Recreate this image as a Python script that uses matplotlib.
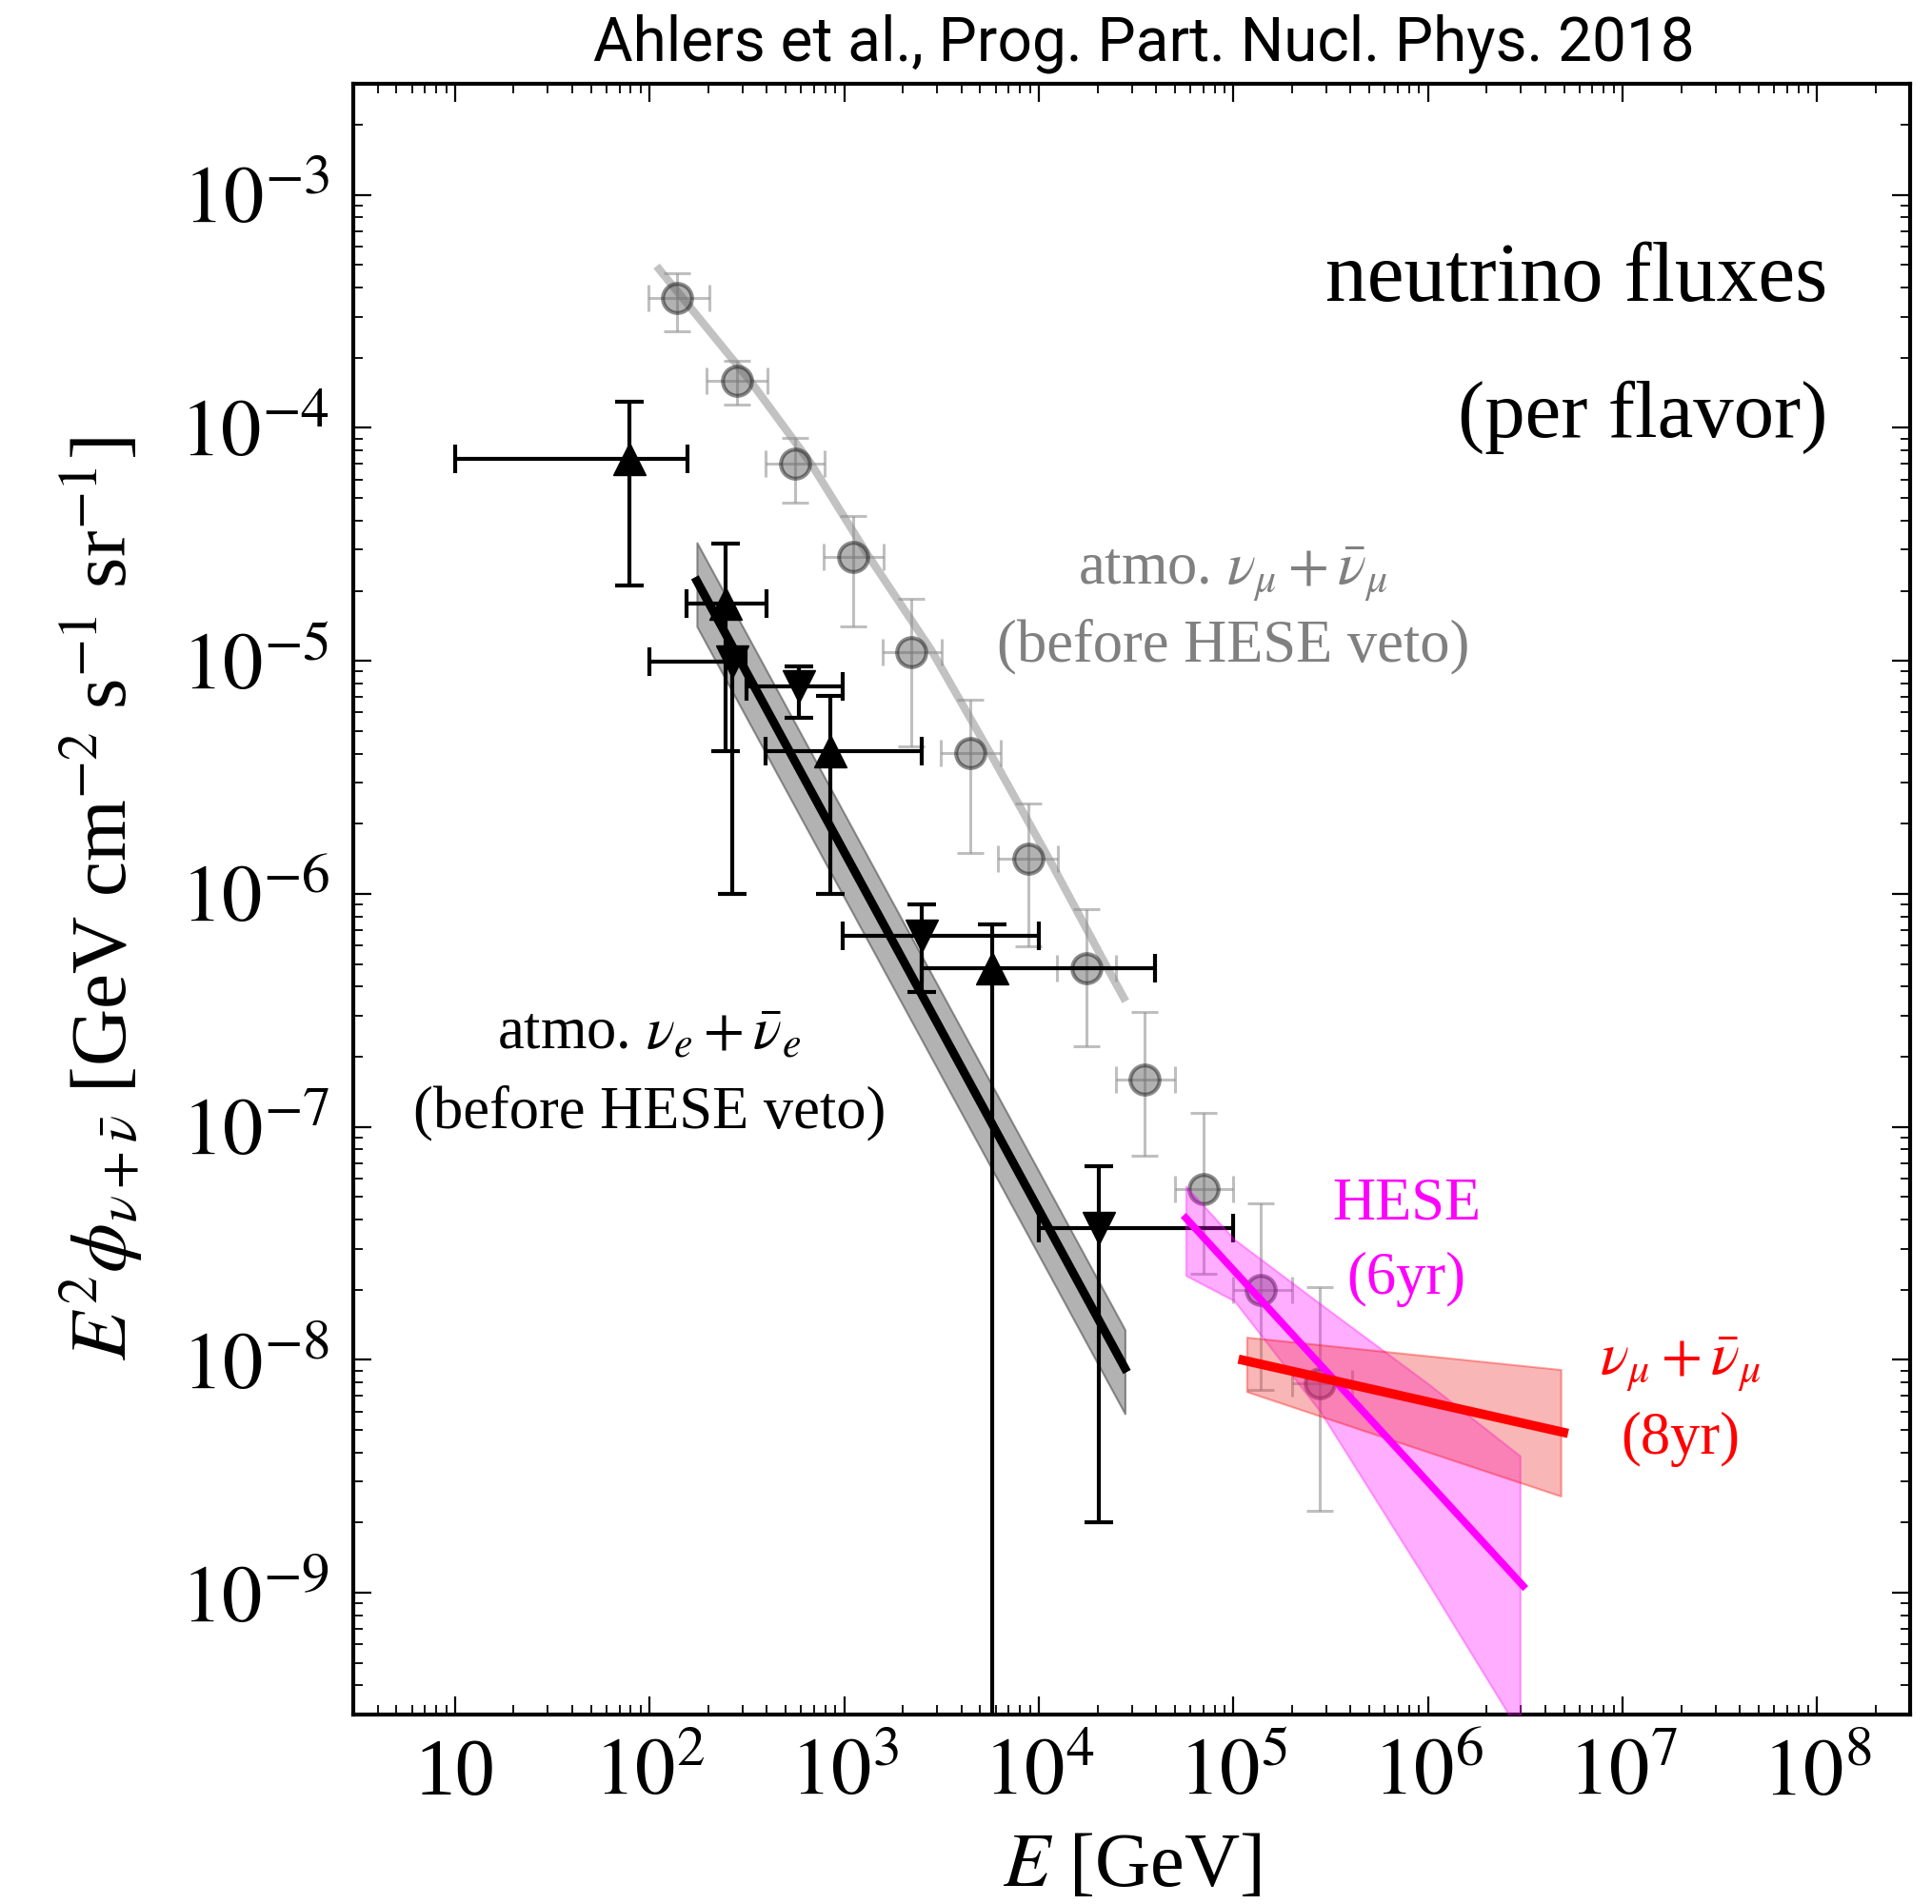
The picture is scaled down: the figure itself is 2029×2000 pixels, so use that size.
import numpy as np
import matplotlib
matplotlib.use("Agg")
import matplotlib.pyplot as plt
from matplotlib.ticker import FixedLocator, FixedFormatter, LogLocator, NullFormatter

plt.rcParams['font.family'] = 'serif'
plt.rcParams['font.serif'] = ['Liberation Serif', 'DejaVu Serif']
plt.rcParams['mathtext.fontset'] = 'stix'

# atmospheric numu + numubar (gray circles)
mu_E = np.array([138, 280, 557, 1117, 2213, 4436, 8830, 17540, 35100, 70600, 1.38e5, 2.79e5])
mu_F = np.array([3.6e-4, 1.60e-4, 7.03e-5, 2.80e-5, 1.09e-5, 4.02e-6, 1.41e-6, 4.78e-7, 1.60e-7, 5.42e-8, 2.0e-8, 7.9e-9])
mu_Fhi = np.array([4.6e-4, 1.94e-4, 9.06e-5, 4.17e-5, 1.84e-5, 6.84e-6, 2.45e-6, 8.57e-7, 3.1e-7, 1.15e-7, 4.7e-8, 2.05e-8])
mu_Flo = np.array([2.59e-4, 1.26e-4, 4.77e-5, 1.41e-5, 4.28e-6, 1.50e-6, 5.94e-7, 2.22e-7, 7.5e-8, 2.35e-8, 7.4e-9, 2.24e-9])
mu_Elo = np.array([99, 197, 393, 782, 1570, 3140, 6150, 12400, 24900, 50000, 1.0e5, 2.0e5])
mu_Ehi = np.array([202, 403, 796, 1600, 3185, 6350, 12500, 24900, 50000, 1.0e5, 2.0e5, 4.06e5])

# atmospheric numu model curve
mu_curve_E = np.array([108.6, 328.9, 673, 1324, 2805, 5623, 11300, 22590, 27930])
mu_curve_F = np.array([4.95e-4, 1.59e-4, 7.05e-5, 2.84e-5, 1.11e-5, 4.02e-6, 1.41e-6, 4.78e-7, 3.46e-7])

# atmospheric nue + nuebar, up triangles
e_up_E = np.array([78.9, 245, 848, 5730])
e_up_F = np.array([7.36e-5, 1.77e-5, 4.1e-6, 4.8e-7])
e_up_Flo = np.array([2.11e-5, 4.1e-6, 1.0e-6, 1e-12])
e_up_Fhi = np.array([1.30e-4, 3.2e-5, 7.1e-6, 7.4e-7])
e_up_Elo = np.array([10, 155, 395, 2500])
e_up_Ehi = np.array([157, 400, 2500, 39400])

# atmospheric nue + nuebar, down triangles
e_dn_E = np.array([266, 588, 2500, 20300])
e_dn_F = np.array([9.9e-6, 7.8e-6, 6.6e-7, 3.66e-8])
e_dn_Flo = np.array([1.0e-6, 5.7e-6, 3.8e-7, 2.0e-9])
e_dn_Fhi = np.array([9.9e-6, 9.5e-6, 9.0e-7, 6.8e-8])
e_dn_Elo = np.array([100, 313, 985, 1.0e4])
e_dn_Ehi = np.array([310, 986, 1.0e4, 1.0e5])

# nue fit line and its band
e_fit_E = np.array([175, 2.77e4])
e_fit_F = np.array([2.2e-5, 9.2e-9])
e_band_hi = 10**0.165
e_band_lo = 10**-0.195

# HESE 6yr
hese_E = np.array([5.69e4, 3.08e6])
hese_F = np.array([4.06e-8, 1.07e-9])
hese_band_E = np.array([5.69e4, 1.01e5, 2.79e5, 1.0e6, 2.97e6])
hese_band_hi = np.array([5.56e-8, 3.29e-8, 1.74e-8, 7.9e-9, 3.87e-9])
hese_band_lo = np.array([2.30e-8, 1.79e-8, 6.0e-9, 1.1e-9, 2.5e-10])

# numu 8yr
numu_E = np.array([1.12e5, 4.97e6])
numu_F = np.array([9.96e-9, 4.88e-9])
numu_band_E = np.array([1.17e5, 4.81e6])
numu_band_hi = np.array([1.25e-8, 9.08e-9])
numu_band_lo = np.array([7.3e-9, 2.6e-9])

fig = plt.figure(figsize=(20.29, 20.0), dpi=100)
ax = fig.add_axes([371/2029, 1 - 1801/2000, (2006 - 371)/2029, (1801 - 88)/2000])
ax.set_xscale('log')
ax.set_yscale('log')
ax.set_xlim(3, 3e8)
ax.set_ylim(3e-10, 3e-3)

# nue band + fit
ax.fill_between(e_fit_E, e_fit_F * e_band_lo, e_fit_F * e_band_hi,
                facecolor='0.5', alpha=0.6, edgecolor='0.3', lw=1.5, zorder=2)
ax.plot(e_fit_E, e_fit_F, color='k', lw=6.5, zorder=3)

# numu curve + data
ax.plot(mu_curve_E, mu_curve_F, color='0.76', lw=6, zorder=2, solid_capstyle='butt')
ax.errorbar(mu_E, mu_F, xerr=[mu_E - mu_Elo, mu_Ehi - mu_E], yerr=[mu_F - mu_Flo, mu_Fhi - mu_F],
            fmt='none', ecolor='0.55', alpha=0.55, elinewidth=2.2, capsize=10, capthick=2.2, zorder=4)
ax.plot(mu_E, mu_F, 'o', ms=22, mfc='0.4', mec='0.1', mew=3, alpha=0.5, zorder=5)

# nue data
ax.errorbar(e_up_E, e_up_F, xerr=[e_up_E - e_up_Elo, e_up_Ehi - e_up_E],
            yerr=[e_up_F - e_up_Flo, e_up_Fhi - e_up_F],
            fmt='^', color='k', ms=25, elinewidth=3, capsize=11, capthick=3, zorder=6)
ax.errorbar(e_dn_E, e_dn_F, xerr=[e_dn_E - e_dn_Elo, e_dn_Ehi - e_dn_E],
            yerr=[e_dn_F - e_dn_Flo, e_dn_Fhi - e_dn_F],
            fmt='v', color='k', ms=25, elinewidth=3, capsize=11, capthick=3, zorder=6)

# HESE
ax.fill_between(hese_band_E, hese_band_lo, hese_band_hi, facecolor='#ff00ff', alpha=0.32,
                edgecolor='#ff00ff', lw=1.5, zorder=7)
ax.plot(hese_E, hese_F, color='#ff00ff', lw=5.5, zorder=8)

# numu 8yr
ax.fill_between(numu_band_E, numu_band_lo, numu_band_hi, facecolor='#f03030', alpha=0.35,
                edgecolor='#ff0000', lw=1.5, zorder=7)
ax.plot(numu_E, numu_F, color='#ff0000', lw=7, zorder=8)

# axes styling
for s in ax.spines.values():
    s.set_linewidth(3)
ax.xaxis.set_major_locator(FixedLocator([1e1, 1e2, 1e3, 1e4, 1e5, 1e6, 1e7, 1e8]))
ax.xaxis.set_major_formatter(FixedFormatter(['10', '$10^2$', '$10^3$', '$10^4$', '$10^5$',
                                             '$10^6$', '$10^7$', '$10^8$']))
ax.xaxis.set_minor_locator(LogLocator(base=10, subs=np.arange(2, 10), numticks=50))
ax.xaxis.set_minor_formatter(NullFormatter())
ax.yaxis.set_major_locator(FixedLocator([1e-9, 1e-8, 1e-7, 1e-6, 1e-5, 1e-4, 1e-3]))
ax.yaxis.set_major_formatter(FixedFormatter(['$10^{-9}$', '$10^{-8}$', '$10^{-7}$', '$10^{-6}$',
                                             '$10^{-5}$', '$10^{-4}$', '$10^{-3}$']))
ax.yaxis.set_minor_locator(LogLocator(base=10, subs=np.arange(2, 10), numticks=50))
ax.yaxis.set_minor_formatter(NullFormatter())
ax.tick_params(which='both', direction='in', top=True, right=True, labelsize=61)
ax.tick_params(which='major', length=14, width=1.6)
ax.tick_params(which='minor', length=7, width=1.3)
ax.tick_params(axis='x', pad=18)
ax.tick_params(axis='y', pad=18)

ax.set_xlabel(r'$E$ [GeV]', fontsize=58, labelpad=16)
ax.set_ylabel(r'$E^2\phi_{\nu+\bar{\nu}}$ [GeV cm$^{-2}$ s$^{-1}$ sr$^{-1}$]', fontsize=60, labelpad=26)

# annotations
ax.text(0.9468, 0.8669, 'neutrino fluxes', transform=ax.transAxes, ha='right', va='baseline', fontsize=63)
ax.text(0.9468, 0.7834, '(per flavor)', transform=ax.transAxes, ha='right', va='baseline', fontsize=61)

ax.text(0.5651, 0.6924, r'atmo. $\nu_\mu + \bar{\nu}_\mu$', transform=ax.transAxes, ha='center',
        va='baseline', fontsize=45, color='0.5')
ax.text(0.5651, 0.6457, '(before HESE veto)', transform=ax.transAxes, ha='center',
        va='baseline', fontsize=45, color='0.5')

ax.text(0.1902, 0.408, r'atmo. $\nu_e + \bar{\nu}_e$', transform=ax.transAxes, ha='center',
        va='baseline', fontsize=45, color='k')
ax.text(0.1902, 0.360, '(before HESE veto)', transform=ax.transAxes, ha='center',
        va='baseline', fontsize=45, color='k')

ax.text(0.6765, 0.3036, 'HESE', transform=ax.transAxes, ha='center', va='baseline',
        fontsize=45, color='#ff00ff')
ax.text(0.6765, 0.258, '(6yr)', transform=ax.transAxes, ha='center', va='baseline',
        fontsize=45, color='#ff00ff')

ax.text(0.8526, 0.2078, r'$\nu_\mu + \bar{\nu}_\mu$', transform=ax.transAxes, ha='center',
        va='baseline', fontsize=45, color='#ff0000')
ax.text(0.8526, 0.160, '(8yr)', transform=ax.transAxes, ha='center', va='baseline',
        fontsize=45, color='#ff0000')

fig.text(1201/2029, 1 - 46/2000, 'Ahlers et al., Prog. Part. Nucl. Phys. 2018',
         family='Roboto', fontweight='normal', fontsize=46, ha='center', va='center')

fig.savefig('out.png', dpi=100)
